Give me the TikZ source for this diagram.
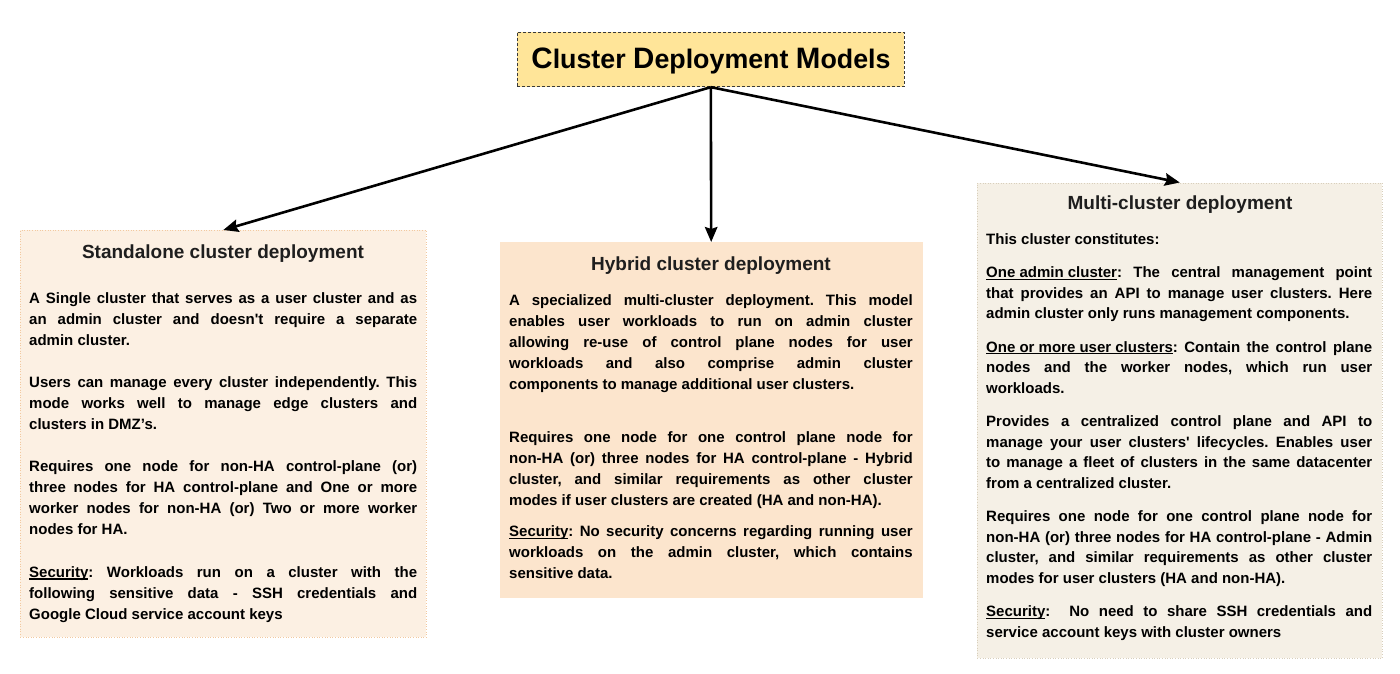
\documentclass[tikz,border=0pt]{standalone}
\usepackage{fontspec}
\setmainfont{Liberation Sans}[Ligatures=TeXOff]
\usetikzlibrary{arrows.meta}
\definecolor{titlefill}{HTML}{FFE599}
\definecolor{titleline}{HTML}{3A3A3A}
\definecolor{lfill}{HTML}{FCF0E3}
\definecolor{lline}{HTML}{F2C9A0}
\definecolor{mfill}{HTML}{FCE5CD}
\definecolor{rfill}{HTML}{F5F0E6}
\definecolor{rline}{HTML}{D8CFBC}
\definecolor{headcol}{HTML}{1E1E1E}
\frenchspacing
\newcommand\jl[1]{\makebox[\linewidth][s]{#1}\\}
\newcommand\myul[1]{\setbox0\hbox{#1}\rlap{\rule[-2.2pt]{\wd0}{1.1pt}}\box0}
\newcommand\capbig[1]{{\fontsize{29.5}{30}\selectfont #1}}
\newcommand\bodyfont{\fontsize{15}{21}\selectfont\bfseries\frenchspacing}
\newcommand\bodyfontr{\fontsize{15}{20.6}\selectfont\bfseries\frenchspacing}
\begin{document}
\begin{tikzpicture}[x=1pt,y=-1pt,
  titlebox/.style={draw=titleline, line width=0.8pt, dash pattern=on 3pt off 2pt, fill=titlefill,
    minimum width=387pt, minimum height=54.7pt, inner sep=0pt},
  panel/.style={rectangle, inner sep=0pt, anchor=north west},
  head/.style={anchor=base, inner sep=0pt, text=headcol, font=\fontsize{19}{22}\selectfont\bfseries},
  para/.style={anchor=base west, inner sep=0pt},
  arr/.style={line width=2.6pt, draw=black, -{Stealth[length=15pt,width=12.5pt,inset=2pt]}}
]
\useasboundingbox (0,0) rectangle (1400,674);
\fill[white] (0,0) rectangle (1400,674);

% title
\node[titlebox] (T) at (710.8,59.4) {};
\node[anchor=base, inner sep=0pt] (Tt) at (711,69)
  {\fontsize{26.8}{30}\selectfont\bfseries \capbig{C}luster \capbig{D}eployment \capbig{M}odels};

% panels
\node[panel, fill=lfill, draw=lline, dotted, line width=0.6pt, minimum width=406pt, minimum height=406.7pt] (L) at (20,230) {};
\node[panel, fill=mfill, draw=mfill, minimum width=422pt, minimum height=355pt] (M) at (500,242) {};
\node[panel, fill=rfill, draw=rline, dotted, line width=0.6pt, minimum width=405pt, minimum height=475pt] (R) at (977,182.5) {};

% connectors
\draw[arr] (T.south) -- (L.north);
\draw[arr] (T.south) -- (M.north);
\draw[arr] (T.south) -- (R.north);

% left panel text
\node[head] (Lh) at (223,258.3) {Standalone cluster deployment};
\node[para] (L1) at (29,303.3) {\parbox[t]{388pt}{\bodyfont
\jl{A Single cluster that serves as a user cluster and as}
\jl{an admin cluster and doesn't require a separate}
admin cluster.}};
\node[para] (L2) at (29,387) {\parbox[t]{388pt}{\bodyfont
\jl{Users can manage every cluster independently. This}
\jl{mode works well to manage edge clusters and}
clusters in DMZ’s.}};
\node[para] (L3) at (29,471.5) {\parbox[t]{388pt}{\bodyfont
\jl{Requires one node for non-HA control-plane (or)}
\jl{three nodes for HA control-plane and One or more}
\jl{worker nodes for non-HA (or) Two or more worker}
nodes for HA.}};
\node[para] (L4) at (29,577.3) {\parbox[t]{388pt}{\bodyfont
\jl{\myul{Security}: Workloads run on a cluster with the}
\jl{following sensitive data - SSH credentials and}
Google Cloud service account keys}};

% middle panel text
\node[head] (Mh) at (711,270) {Hybrid cluster deployment};
\node[para] (M1) at (509,305) {\parbox[t]{403.5pt}{\bodyfont
\jl{A specialized multi-cluster deployment. This model}
\jl{enables user workloads to run on admin cluster}
\jl{allowing re-use of control plane nodes for user}
\jl{workloads and also comprise admin cluster}
components to manage additional user clusters.}};
\node[para] (M2) at (509,442.7) {\parbox[t]{403.5pt}{\bodyfont
\jl{Requires one node for one control plane node for}
\jl{non-HA (or) three nodes for HA control-plane - Hybrid}
\jl{cluster, and similar requirements as other cluster}
modes if user clusters are created (HA and non-HA).}};
\node[para] (M3) at (509,536.7) {\parbox[t]{403.5pt}{\bodyfont
\jl{\myul{Security}: No security concerns regarding running user}
\jl{workloads on the admin cluster, which contains}
sensitive data.}};

% right panel text
\node[head] (Rh) at (1180,209.3) {Multi-cluster deployment};
\node[para] (R0) at (986,244.2) {\parbox[t]{386pt}{\bodyfontr This cluster constitutes:}};
\node[para] (R1) at (986,277.5) {\parbox[t]{386pt}{\bodyfontr
\jl{\myul{One admin cluster}: The central management point}
\jl{that provides an API to manage user clusters. Here}
admin cluster only runs management components.}};
\node[para] (R2) at (986,352.1) {\parbox[t]{386pt}{\bodyfontr
\jl{\myul{One or more user clusters}: Contain the control plane}
\jl{nodes and the worker nodes, which run user}
workloads.}};
\node[para] (R3) at (986,426.7) {\parbox[t]{386pt}{\bodyfontr
\jl{Provides a centralized control plane and API to}
\jl{manage your user clusters' lifecycles. Enables user}
\jl{to manage a fleet of clusters in the same datacenter}
from a centralized cluster.}};
\node[para] (R4) at (986,521.7) {\parbox[t]{386pt}{\bodyfontr
\jl{Requires one node for one control plane node for}
\jl{non-HA (or) three nodes for HA control-plane - Admin}
\jl{cluster, and similar requirements as other cluster}
modes for user clusters (HA and non-HA).}};
\node[para] (R5) at (986,616.7) {\parbox[t]{386pt}{\bodyfontr
\jl{\myul{Security}:\ \ No need to share SSH credentials and}
service account keys with cluster owners}};
\end{tikzpicture}
\end{document}
